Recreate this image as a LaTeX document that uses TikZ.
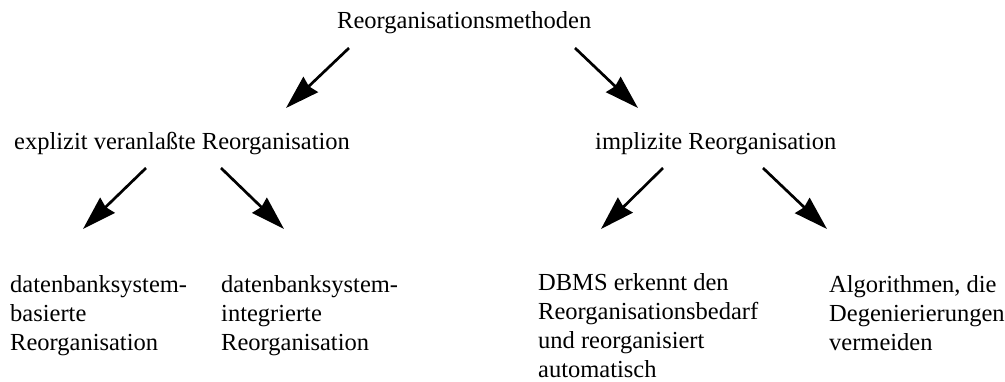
\documentclass[tikz,border=0pt]{standalone}
\usepackage{fontspec}
\setmainfont{Liberation Serif}
\usetikzlibrary{arrows.meta}
\begin{document}
\begin{tikzpicture}[x=1pt,y=-1pt,
  lbl/.style={anchor=base west, inner sep=0pt, align=left, font=\fontsize{24.5}{29}\selectfont},
  arr/.style={line width=2.7pt, -{Stealth[length=34pt,width=21pt,inset=2.5pt]}}]
\useasboundingbox (0,0) rectangle (1005,381);
% texts (multi-line nodes are anchored at the baseline of their last line)
\node[lbl] (root) at (337,28) {Reorganisationsmethoden};
\node[lbl] (expl) at (14,149) {explizit veranlaßte Reorganisation};
\node[lbl] (impl) at (595,149) {implizite Reorganisation};
\node[lbl] (basiert) at (10,350) {datenbanksystem-\\basierte\\Reorganisation};
\node[lbl] (integr) at (221,350) {datenbanksystem-\\integrierte\\Reorganisation};
\node[lbl] (dbms) at (538,377) {DBMS erkennt den\\Reorganisationsbedarf\\und reorganisiert\\automatisch};
\node[lbl] (algo) at (829,350) {Algorithmen, die\\Degenierierungen\\vermeiden};
% arrow end points
\coordinate (r1s) at (349,48);  \coordinate (r1e) at (286,108);
\coordinate (r2s) at (575,48);  \coordinate (r2e) at (638,108);
\coordinate (e1s) at (146,168); \coordinate (e1e) at (83,229);
\coordinate (e2s) at (221,168); \coordinate (e2e) at (284,229);
\coordinate (i1s) at (663,168); \coordinate (i1e) at (601,229);
\coordinate (i2s) at (763,168); \coordinate (i2e) at (827,229);
\draw[arr] (r1s) -- (r1e);
\draw[arr] (r2s) -- (r2e);
\draw[arr] (e1s) -- (e1e);
\draw[arr] (e2s) -- (e2e);
\draw[arr] (i1s) -- (i1e);
\draw[arr] (i2s) -- (i2e);
\end{tikzpicture}
\end{document}
